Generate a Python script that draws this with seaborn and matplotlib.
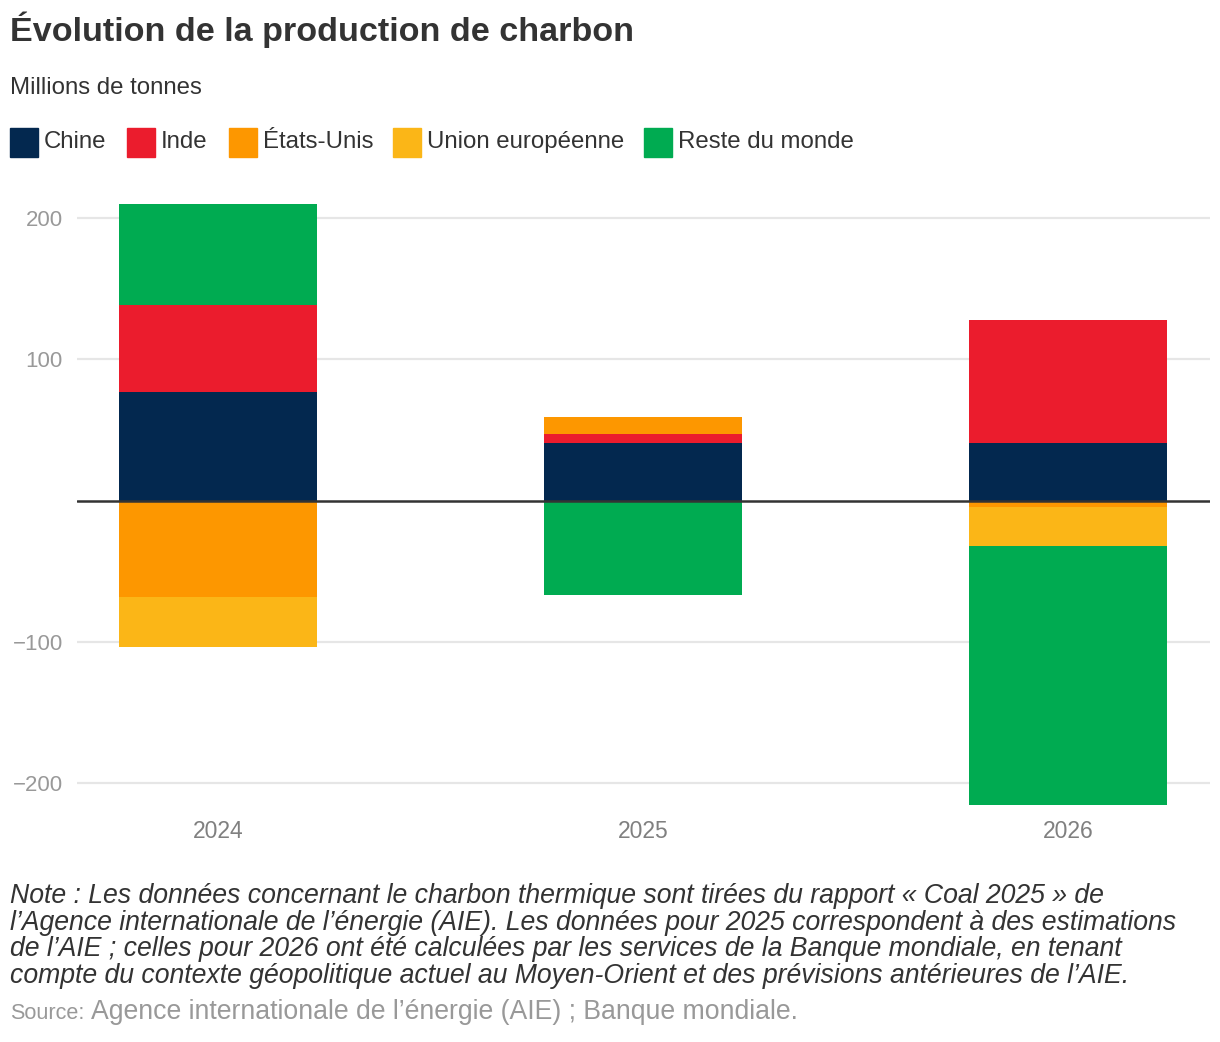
import numpy as np
import pandas as pd
import matplotlib
matplotlib.use("Agg")
import matplotlib.pyplot as plt
from matplotlib.patches import Rectangle
import seaborn as sns

years = ["2024", "2025", "2026"]
series = ["Chine", "Inde", "États-Unis", "Union européenne", "Reste du monde"]
chine = [77, 41, 41]
inde = [61.4, 6.4, 87]
etats_unis = [-68, 12, -4.5]
union_eu = [-35.4, 0, -27.5]
reste = [71.7, -67, -183]
colors = ["#03284F", "#EB1C2D", "#FD9700", "#FBB617", "#00AB51"]
yticks = [-200, -100, 0, 100, 200]
ytick_labels = ["\u2212200", "\u2212100", "", "100", "200"]

title = "Évolution de la production de charbon"
subtitle = "Millions de tonnes"
note = ("Note : Les données concernant le charbon thermique sont tirées du rapport « Coal 2025 » de\n"
        "l’Agence internationale de l’énergie (AIE). Les données pour 2025 correspondent à des estimations\n"
        "de l’AIE ; celles pour 2026 ont été calculées par les services de la Banque mondiale, en tenant\n"
        "compte du contexte géopolitique actuel au Moyen-Orient et des prévisions antérieures de l’AIE.")
source_lbl = "Source:"
source_txt = "Agence internationale de l’énergie (AIE) ; Banque mondiale."

sns.set_theme(style="white")
plt.rcParams['font.family'] = ['Liberation Sans', 'DejaVu Sans']

fig = plt.figure(figsize=(12.2, 10.42), dpi=100)
ax = fig.add_axes([0.063, 0.2265, 0.929, 0.5805])

data = [chine, inde, etats_unis, union_eu, reste]
pos_base = np.zeros(len(years))
neg_base = np.zeros(len(years))
for name, vals, col in zip(series, data, colors):
    vals = np.array(vals, dtype=float)
    bottoms = np.where(vals >= 0, pos_base, neg_base)
    df = pd.DataFrame({"year": years, "value": vals})
    sns.barplot(data=df, x="year", y="value", bottom=bottoms, color=col,
                saturation=1, width=0.466, ax=ax, linewidth=0, errorbar=None)
    pos_base = pos_base + np.where(vals > 0, vals, 0)
    neg_base = neg_base + np.where(vals < 0, vals, 0)

ax.set_xlim(-0.332, 2.334)
ax.set_ylim(-216, 212)
ax.set_yticks(yticks)
ax.set_yticklabels(ytick_labels)
for y in [-200, -100, 100, 200]:
    ax.axhline(y, color="#e6e6e6", lw=1.6, zorder=0)
ax.axhline(0, color="#333333", lw=1.8, zorder=5)
for s in ax.spines.values():
    s.set_visible(False)
ax.set_xlabel("")
ax.set_ylabel("")
ax.tick_params(axis="y", length=0, pad=10, labelsize=16, labelcolor="#999999")
ax.tick_params(axis="x", length=0, pad=10, labelsize=16.5, labelcolor="#808080")
ax.grid(False)

W, H = 1220, 1042
def fx(px): return px / W
def fy(py): return 1 - py / H

fig.text(fx(10), fy(30), title, fontsize=24.6, fontweight="bold", color="#333333",
         va="center", ha="left")
fig.text(fx(10), fy(88), subtitle, fontsize=17.3, color="#333333", va="center", ha="left")

# legend
leg_x = [10, 127, 229, 393, 644]
for name, col, x0 in zip(series, colors, leg_x):
    fig.patches.append(Rectangle((fx(x0), fy(157)), 28 / W, 29 / H,
                                 transform=fig.transFigure, color=col, figure=fig))
    fig.text(fx(x0 + 34), fy(142), name, fontsize=17.3, color="#333333",
             va="center", ha="left")

fig.text(fx(10), fy(883), note, fontsize=19.2, style="italic", color="#333333",
         va="top", ha="left", linespacing=1.035)
t = fig.text(fx(10), fy(1019), source_lbl, fontsize=15.6, color="#999999",
             va="baseline", ha="left")
fig.canvas.draw()
bb = t.get_window_extent()
fig.text((bb.x1 + 7) / W, fy(1019), source_txt, fontsize=19.2, color="#999999",
         va="baseline", ha="left")

fig.savefig("out.png", dpi=100, facecolor="white")
